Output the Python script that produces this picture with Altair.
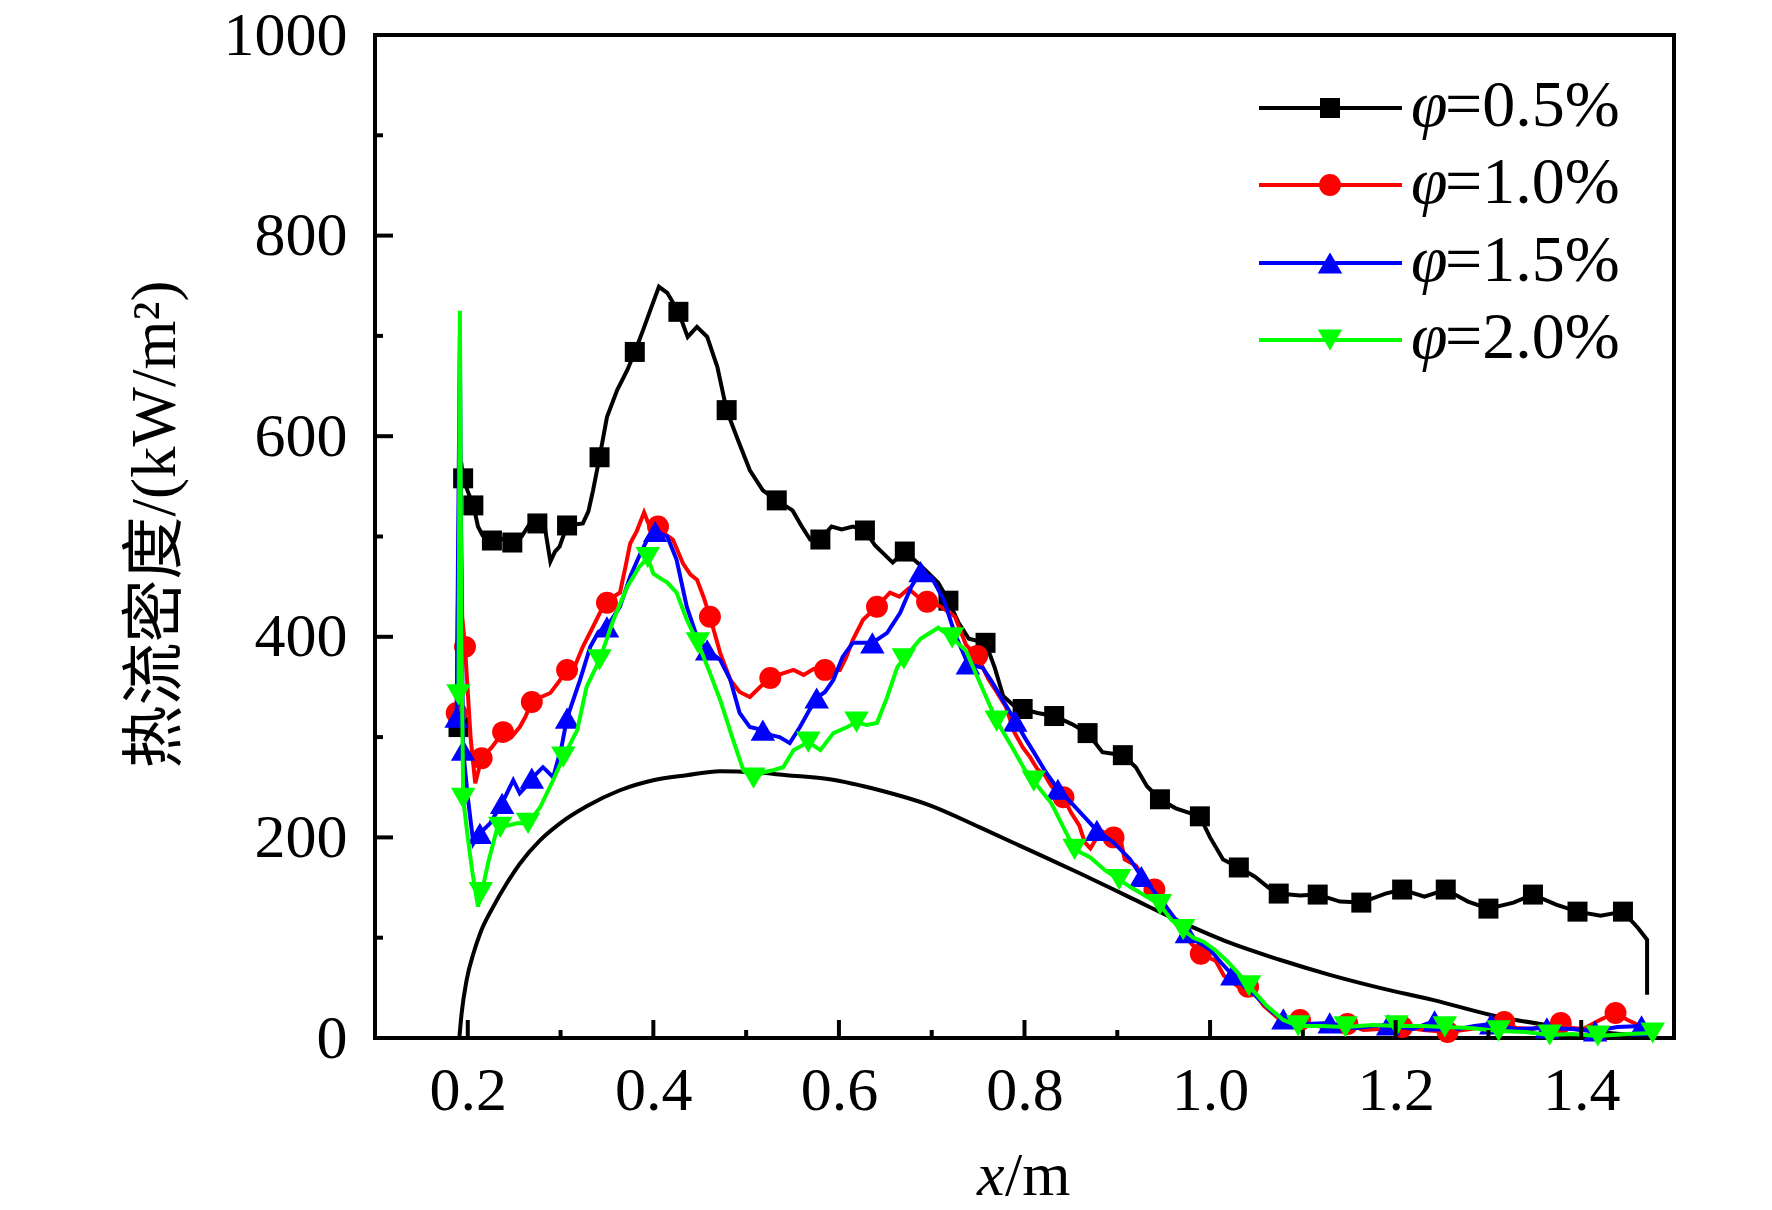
import altair as alt
import pandas as pd

# ---------------- data ----------------
# smooth reference curve (black, no markers, no legend)
smooth_x = [0.1909, 0.1934, 0.1988, 0.2060, 0.2132, 0.2275, 0.2419, 0.2563, 0.2778, 0.2994,
            0.3281, 0.3640, 0.3999, 0.4359, 0.4718, 0.5077, 0.5437, 0.5900, 0.6440, 0.698,
            0.752, 0.806, 0.860, 0.914, 0.968, 1.021, 1.075, 1.129, 1.183,
            1.240, 1.312, 1.370, 1.420, 1.474]
smooth_y = [0, 25, 58, 84, 104, 131, 154, 174, 197, 214,
            231, 247, 257, 262, 266, 265, 262, 258, 247, 232,
            210, 187, 164, 140, 116, 95, 78, 63, 50,
            38, 21, 12, 6, 2]

# phi = 0.5 %
b_x = [0.190, 0.1915, 0.193, 0.195, 0.200, 0.206, 0.211, 0.216, 0.226, 0.236, 0.248, 0.258, 0.267, 0.275,
       0.282, 0.289, 0.294, 0.299, 0.307, 0.315, 0.324, 0.330, 0.335, 0.342, 0.350, 0.361, 0.372, 0.380,
       0.389, 0.398, 0.406, 0.415, 0.427, 0.437, 0.447, 0.458, 0.469, 0.479, 0.490, 0.504, 0.518, 0.533,
       0.550, 0.560, 0.569, 0.580, 0.592, 0.603, 0.615, 0.628, 0.639, 0.658, 0.671, 0.688, 0.707, 0.718,
       0.729, 0.740, 0.758, 0.768, 0.777, 0.790, 0.798, 0.814, 0.832, 0.851, 0.868, 0.884, 0.906, 0.920,
       0.932, 0.946, 0.963, 0.989, 1.000, 1.014, 1.031, 1.048, 1.063, 1.074, 1.097, 1.116, 1.140, 1.163,
       1.189, 1.207, 1.231, 1.254, 1.278, 1.300, 1.327, 1.348, 1.373, 1.396, 1.421, 1.445, 1.461, 1.471,
       1.471]
b_y = [310, 575, 573, 558, 545, 531, 510, 501, 496, 498, 494, 500, 513, 513,
       515, 475, 485, 490, 511, 512, 513, 525, 546, 579, 619, 646, 666, 684,
       706, 729, 749, 743, 724, 699, 709, 699, 669, 626, 599, 566, 546, 536,
       526, 510, 497, 497, 510, 507, 510, 506, 491, 474, 485, 471, 454, 436,
       414, 398, 394, 369, 341, 330, 328, 324, 321, 313, 304, 285, 282, 270,
       251, 238, 229, 221, 200, 178, 170, 161, 150, 144, 142, 143, 136, 135,
       144, 148, 141, 148, 136, 129, 135, 143, 133, 126, 122, 126, 110, 98,
       43]
bm_x = [0.190, 0.195, 0.206, 0.226, 0.248, 0.275, 0.307, 0.342, 0.380, 0.427, 0.479, 0.533, 0.580,
        0.628, 0.671, 0.718, 0.758, 0.798, 0.832, 0.868, 0.906, 0.946, 0.989, 1.031, 1.074, 1.116,
        1.163, 1.207, 1.254, 1.300, 1.348, 1.396, 1.445]
bm_y = [310, 558, 531, 496, 494, 513, 511, 579, 684, 724, 626, 536, 497,
        506, 485, 436, 394, 328, 321, 304, 282, 238, 221, 170, 144, 143,
        135, 148, 148, 129, 143, 126, 126]

# phi = 1.0 %
r_x = [0.188, 0.1915, 0.194, 0.197, 0.203, 0.208, 0.215, 0.226, 0.238, 0.247, 0.256, 0.262, 0.269, 0.279,
       0.289, 0.298, 0.307, 0.316, 0.324, 0.335, 0.343, 0.350, 0.357, 0.364, 0.370, 0.375, 0.382, 0.390,
       0.396, 0.405, 0.413, 0.421, 0.432, 0.440, 0.447, 0.454, 0.461, 0.472, 0.483, 0.493, 0.504, 0.515,
       0.526, 0.538, 0.551, 0.562, 0.573, 0.585, 0.601, 0.608, 0.615, 0.626, 0.641, 0.655, 0.665, 0.675,
       0.685, 0.695, 0.710, 0.725, 0.737, 0.749, 0.761, 0.770, 0.780, 0.789, 0.798, 0.806, 0.814, 0.822,
       0.829, 0.842, 0.850, 0.859, 0.865, 0.871, 0.878, 0.884, 0.896, 0.902, 0.908, 0.920, 0.932, 0.940,
       0.948, 0.957, 0.966, 0.975, 0.990, 1.006, 1.015, 1.024, 1.032, 1.041, 1.050, 1.058, 1.073, 1.085,
       1.097, 1.110, 1.121, 1.135, 1.148, 1.165, 1.183, 1.207, 1.230, 1.256, 1.281, 1.300, 1.317, 1.330,
       1.347, 1.360, 1.378, 1.390, 1.402, 1.420, 1.437, 1.450, 1.457, 1.473]
r_y = [324, 600, 420, 390, 300, 254, 279, 290, 305, 300, 310, 320, 335, 340,
       344, 355, 367, 372, 390, 410, 425, 434, 440, 444, 470, 493, 505, 524,
       510, 510, 502, 497, 473, 462, 457, 440, 420, 384, 357, 345, 340, 350,
       359, 363, 367, 362, 368, 367, 367, 380, 397, 417, 430, 444, 440, 448,
       440, 435, 430, 420, 392, 381, 358, 345, 330, 305, 290, 280, 268, 262,
       251, 240, 225, 212, 195, 189, 200, 206, 200, 205, 178, 172, 155, 148,
       140, 122, 110, 99, 84, 77, 62, 56, 50, 51, 42, 32, 20, 17,
       18, 13, 11, 13, 14, 8, 9, 11, 8, 6, 9, 12, 16, 10,
       9, 12, 15, 10, 9, 18, 25, 18, 15, 7]
rm_x = [0.188, 0.197, 0.215, 0.238, 0.269, 0.307, 0.350, 0.405, 0.461, 0.526, 0.585, 0.641, 0.695,
        0.749, 0.842, 0.896, 0.940, 0.990, 1.041, 1.097, 1.148, 1.207, 1.256, 1.317, 1.378, 1.437]
rm_y = [324, 390, 279, 305, 335, 367, 434, 510, 420, 359, 367, 430, 435,
        381, 240, 200, 148, 84, 51, 18, 14, 11, 6, 16, 15, 25]

# phi = 1.5 %
u_x = [0.188, 0.1915, 0.193, 0.195, 0.200, 0.206, 0.213, 0.224, 0.237, 0.249, 0.256, 0.262, 0.269, 0.281,
       0.292, 0.301, 0.307, 0.321, 0.332, 0.341, 0.350, 0.364, 0.375, 0.386, 0.395, 0.402, 0.415, 0.425,
       0.436, 0.447, 0.458, 0.472, 0.483, 0.493, 0.504, 0.518, 0.527, 0.536, 0.547, 0.558, 0.567, 0.576,
       0.585, 0.594, 0.604, 0.615, 0.636, 0.652, 0.666, 0.678, 0.688, 0.700, 0.713, 0.725, 0.739, 0.755,
       0.765, 0.774, 0.790, 0.800, 0.810, 0.823, 0.836, 0.853, 0.865, 0.878, 0.896, 0.914, 0.926, 0.938,
       0.951, 0.963, 0.975, 0.988, 1.000, 1.012, 1.024, 1.036, 1.048, 1.067, 1.079, 1.090, 1.103, 1.129,
       1.145, 1.158, 1.175, 1.192, 1.219, 1.242, 1.268, 1.285, 1.303, 1.329, 1.363, 1.390, 1.415, 1.439,
       1.465]
u_y = [320, 700, 450, 287, 240, 194, 204, 214, 234, 257, 244, 250, 259, 270,
       260, 290, 319, 357, 390, 405, 410, 430, 460, 483, 500, 505, 500, 477,
       430, 400, 387, 377, 357, 324, 310, 307, 302, 300, 294, 310, 325, 339,
       345, 357, 380, 394, 394, 404, 424, 450, 465, 459, 437, 403, 373, 369,
       355, 341, 316, 300, 285, 265, 248, 232, 220, 207, 195, 178, 161, 148,
       133, 118, 105, 95, 88, 75, 63, 52, 43, 26, 19, 15, 14, 15,
       11, 10, 12, 13, 9, 17, 9, 12, 14, 9, 10, 9, 7, 11,
       12]
um_x = [0.188, 0.195, 0.213, 0.237, 0.269, 0.307, 0.350, 0.402, 0.458, 0.518, 0.576, 0.636, 0.688,
        0.739, 0.790, 0.836, 0.878, 0.926, 0.975, 1.024, 1.079, 1.129, 1.192, 1.242, 1.303, 1.363,
        1.415, 1.465]
um_y = [320, 287, 204, 234, 259, 319, 410, 505, 387, 307, 339, 394, 465,
        373, 316, 248, 207, 161, 105, 63, 19, 15, 13, 17, 14, 10,
        7, 12]

# phi = 2.0 %
g_x = [0.190, 0.1915, 0.193, 0.195, 0.200, 0.205, 0.211, 0.215, 0.222, 0.231, 0.235, 0.244, 0.253, 0.265,
       0.278, 0.292, 0.303, 0.318, 0.328, 0.342, 0.357, 0.372, 0.385, 0.394, 0.400, 0.408, 0.415, 0.425,
       0.436, 0.448, 0.461, 0.472, 0.486, 0.497, 0.508, 0.519, 0.529, 0.540, 0.551, 0.567, 0.580, 0.594,
       0.609, 0.619, 0.630, 0.641, 0.652, 0.663, 0.670, 0.688, 0.707, 0.722, 0.737, 0.753, 0.770, 0.786,
       0.800, 0.810, 0.829, 0.842, 0.854, 0.871, 0.887, 0.902, 0.915, 0.926, 0.946, 0.958, 0.971, 0.982,
       0.993, 1.005, 1.018, 1.030, 1.042, 1.061, 1.079, 1.095, 1.120, 1.146, 1.175, 1.201, 1.230, 1.253,
       1.280, 1.311, 1.340, 1.366, 1.390, 1.418, 1.450, 1.477]
g_y = [342, 725, 420, 239, 200, 165, 131, 145, 175, 207, 210, 212, 214, 214,
       230, 257, 280, 307, 350, 377, 417, 450, 470, 479, 463, 458, 454, 444,
       417, 394, 364, 337, 297, 267, 259, 265, 267, 270, 287, 295, 287, 304,
       310, 315, 312, 314, 340, 370, 378, 398, 409, 399, 386, 352, 316, 291,
       268, 256, 234, 210, 188, 180, 167, 158, 150, 144, 133, 118, 108, 100,
       96, 88, 77, 65, 52, 32, 18, 12, 12, 11, 13, 12, 12, 11,
       10, 7, 6, 3, 4, 2, 4, 5]
gm_x = [0.190, 0.195, 0.214, 0.235, 0.265, 0.303, 0.342, 0.394, 0.448, 0.508, 0.567, 0.619, 0.670,
        0.722, 0.770, 0.810, 0.854, 0.902, 0.946, 0.971, 1.042, 1.095, 1.146, 1.201, 1.253, 1.311,
        1.366, 1.418, 1.477]
gm_y = [342, 239, 145, 210, 214, 280, 377, 479, 394, 259, 295, 315, 378,
        399, 316, 256, 188, 158, 133, 108, 52, 12, 11, 12, 11, 7,
        3, 2, 5]

# axis ticks and labels
x_major = [0.2, 0.4, 0.6, 0.8, 1.0, 1.2, 1.4]
x_minor = [0.3, 0.5, 0.7, 0.9, 1.1, 1.3]
y_major = [0, 200, 400, 600, 800, 1000]
y_minor = [100, 300, 500, 700, 900]

legend_num = ["=0.5%", "=1.0%", "=1.5%", "=2.0%"]
colors = ["#000000", "#ff0000", "#0000ff", "#00ff00"]
shapes = ["square", "circle", "triangle-up", "triangle-down"]
sizes = [400, 480, 600, 600]

y_title = "热流密度/(kW/m²)"

# ---------------- layout ----------------
W, H = 1299, 1003
FONT = "'Liberation Serif', 'Times New Roman', serif"
CJK = "'Liberation Serif', 'Noto Sans CJK SC', serif"
FS = 62
LFS = 66
LW = 4

xs = alt.Scale(domain=[0.1, 1.5], nice=False, zero=False)
ys = alt.Scale(domain=[0, 1000], nice=False, zero=False)

AX = alt.Axis(
    values=x_major, format=".1f", labelFont=FONT, labelFontSize=FS,
    labelColor="black", ticks=False, domain=False, grid=False,
    labelPadding=22, labelFlush=False, labelOverlap=False, title=None)
AY = alt.Axis(
    values=y_major, format="d", labelFont=FONT, labelFontSize=FS,
    labelColor="black", ticks=False, domain=False, grid=False,
    labelPadding=28, labelFlush=False, labelOverlap=False,
    title=y_title, titleFont=CJK, titleFontSize=63, titleFontWeight="normal",
    titleColor="black", titleX=-220, titleY=489, titleAngle=270,
    titleAlign="center", titleBaseline="middle")


def frame(xv, yv):
    return pd.DataFrame({"x": xv, "y": yv, "i": list(range(len(xv)))})


X0 = alt.X("x:Q", scale=xs, axis=AX)
Y0 = alt.Y("y:Q", scale=ys, axis=AY)

layers = []

layers.append(
    alt.Chart(frame(smooth_x, smooth_y)).mark_line(
        color="black", strokeWidth=LW, interpolate="monotone"
    ).encode(x=X0, y=Y0, order="i:Q")
)

series = [
    (b_x, b_y, bm_x, bm_y),
    (r_x, r_y, rm_x, rm_y),
    (u_x, u_y, um_x, um_y),
    (g_x, g_y, gm_x, gm_y),
]
for k, (lx, ly, mx, my) in enumerate(series):
    layers.append(
        alt.Chart(frame(lx, ly)).mark_line(color=colors[k], strokeWidth=LW).encode(
            x=X0, y=Y0, order="i:Q")
    )
    layers.append(
        alt.Chart(frame(mx, my)).mark_point(
            shape=shapes[k], size=sizes[k], filled=True, opacity=1, color=colors[k]
        ).encode(x=X0, y=Y0)
    )

# inward ticks
tick_style = dict(color="black", strokeWidth=4)
layers.append(alt.Chart(frame(x_major, x_major)).mark_rule(**tick_style).encode(
    x=X0, y=alt.value(H), y2=alt.value(H - 18)))
layers.append(alt.Chart(frame(x_minor, x_minor)).mark_rule(**tick_style).encode(
    x=X0, y=alt.value(H), y2=alt.value(H - 8)))
layers.append(alt.Chart(frame(y_major, y_major)).mark_rule(**tick_style).encode(
    y=Y0, x=alt.value(0), x2=alt.value(18)))
layers.append(alt.Chart(frame(y_minor, y_minor)).mark_rule(**tick_style).encode(
    y=Y0, x=alt.value(0), x2=alt.value(8)))

# x-axis title: italic x + upright /m
layers.append(alt.Chart(pd.DataFrame({"t": ["x"]})).mark_text(
    font=FONT, fontSize=FS, fontStyle="italic", color="black", align="left", baseline="alphabetic"
).encode(text="t:N", x=alt.value(602), y=alt.value(1160)))
layers.append(alt.Chart(pd.DataFrame({"t": ["/m"]})).mark_text(
    font=FONT, fontSize=FS, color="black", align="left", baseline="alphabetic"
).encode(text="t:N", x=alt.value(630), y=alt.value(1160)))

# legend (top right, inside the frame)
rows = [73, 150, 228, 305]
for k in range(4):
    yy = rows[k]
    layers.append(alt.Chart(pd.DataFrame({"a": [0]})).mark_rule(
        color=colors[k], strokeWidth=LW).encode(
        x=alt.value(884), x2=alt.value(1027), y=alt.value(yy)))
    layers.append(alt.Chart(pd.DataFrame({"a": [0]})).mark_point(
        shape=shapes[k], size=sizes[k], filled=True, opacity=1, color=colors[k]).encode(
        x=alt.value(955), y=alt.value(yy)))
    layers.append(alt.Chart(pd.DataFrame({"t": ["φ"]})).mark_text(
        font=FONT, fontSize=LFS, fontStyle="italic", color="black", align="left",
        baseline="middle").encode(text="t:N", x=alt.value(1036), y=alt.value(yy - 2)))
    layers.append(alt.Chart(pd.DataFrame({"t": [legend_num[k]]})).mark_text(
        font=FONT, fontSize=LFS, color="black", align="left",
        baseline="middle").encode(text="t:N", x=alt.value(1070), y=alt.value(yy - 2)))

chart = alt.layer(*layers).properties(
    width=W, height=H,
    autosize=alt.AutoSizeParams(type="none"),
    padding={"left": 367, "top": 27, "right": 90, "bottom": 170},
    background="white",
).configure_view(stroke="black", strokeWidth=4)

chart.save("out.html", embed_options={"renderer": "svg", "actions": False})
